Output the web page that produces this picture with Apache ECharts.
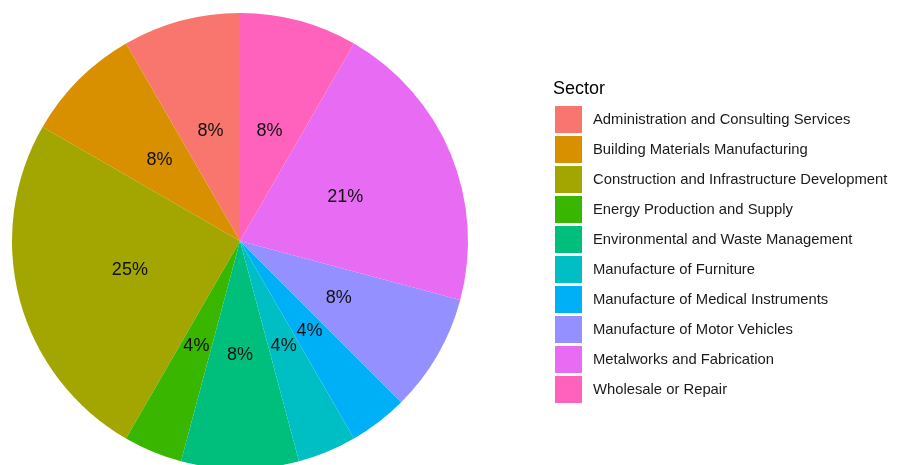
<!DOCTYPE html>
<html>
<head>
<meta charset="utf-8">
<script src="https://cdn.jsdelivr.net/npm/echarts@6/dist/echarts.min.js"></script>
<style>
  html, body { margin: 0; padding: 0; background: #fff; }
  #chart { width: 898px; height: 465px; }
</style>
</head>
<body>
<div id="chart"></div>
<script>
// Firms counted per sector
const sectors = [
  'Administration and Consulting Services',
  'Building Materials Manufacturing',
  'Construction and Infrastructure Development',
  'Energy Production and Supply',
  'Environmental and Waste Management',
  'Manufacture of Furniture',
  'Manufacture of Medical Instruments',
  'Manufacture of Motor Vehicles',
  'Metalworks and Fabrication',
  'Wholesale or Repair'
];
const counts = [2, 2, 6, 1, 2, 1, 1, 2, 5, 2];
const palette = ['#F8766D', '#D89000', '#A3A500', '#39B600', '#00BF7D',
                 '#00BFC4', '#00B0F6', '#9590FF', '#E76BF3', '#FF62BC'];

const pieData = sectors.map((name, i) => ({ name, value: counts[i] }));
const CENTER = [240, 241];

const chart = echarts.init(document.getElementById('chart'), null, { renderer: 'canvas' });

chart.setOption({
  backgroundColor: '#ffffff',
  animation: false,
  color: palette,
  title: {
    text: 'Sector',
    left: 553,
    top: 80,
    padding: 0,
    textStyle: { fontFamily: 'Liberation Sans', fontSize: 18, fontWeight: 'normal', color: '#000' }
  },
  legend: {
    orient: 'vertical',
    left: 555,
    top: 106,
    padding: 0,
    itemWidth: 27,
    itemHeight: 27,
    itemGap: 3,
    icon: 'rect',
    selectedMode: false,
    data: sectors,
    textStyle: {
      fontFamily: 'Liberation Sans',
      fontSize: 14.8,
      color: '#1a1a1a',
      padding: [0, 0, 0, 6]
    }
  },
  series: [
    {
      // filled slices
      type: 'pie',
      center: CENTER,
      radius: [0, 228],
      startAngle: 90,
      clockwise: false,
      itemStyle: { borderWidth: 0 },
      emphasis: { disabled: true },
      label: { show: false },
      labelLine: { show: false },
      data: pieData
    },
    {
      // percentage labels, placed a little nearer the centre
      type: 'pie',
      center: CENTER,
      radius: [0, 222],
      startAngle: 90,
      clockwise: false,
      silent: true,
      avoidLabelOverlap: false,
      itemStyle: { color: 'rgba(0,0,0,0)', borderWidth: 0 },
      emphasis: { disabled: true },
      label: {
        show: true,
        position: 'inside',
        fontFamily: 'Liberation Sans',
        fontSize: 18,
        color: '#111',
        padding: [3, 0, 0, 0],
        formatter: p => Math.round(p.percent) + '%'
      },
      labelLayout: { hideOverlap: false },
      labelLine: { show: false },
      data: pieData
    }
  ]
});
</script>
</body>
</html>
